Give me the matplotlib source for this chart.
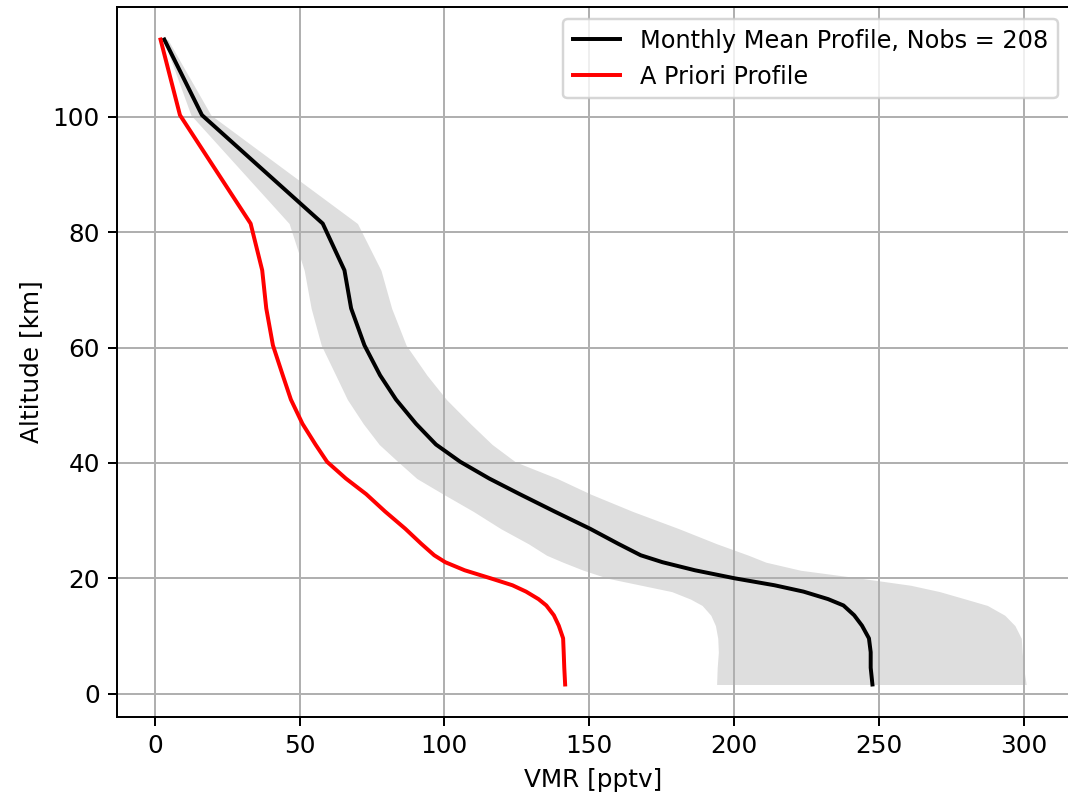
import numpy as np
import matplotlib
matplotlib.use('Agg')
import matplotlib.pyplot as plt

# Altitude grid [km], shared by all profiles
altitude = [113.4, 100.3, 81.5, 73.4, 66.8, 60.4, 55.2, 51.0, 46.8, 43.2,
            40.2, 37.3, 34.6, 31.6, 28.6, 26.0, 24.0, 22.8, 21.4, 20.0,
            18.8, 17.7, 16.4, 15.3, 13.6, 11.8, 9.6, 7.2, 4.5, 1.6]

# Monthly mean VMR [pptv]
mean_vmr = [3.3, 16.3, 58.0, 65.5, 67.8, 72.4, 77.8, 83.3, 90.2, 97.1,
            105.5, 115.5, 126.0, 138.0, 150.3, 160.0, 167.8, 175.3, 186.5, 200.3,
            214.0, 224.0, 232.5, 237.8, 241.5, 244.2, 246.6, 247.2, 247.2, 247.8]

# A priori VMR [pptv]
apriori_vmr = [2.0, 8.7, 33.1, 37.1, 38.5, 40.8, 44.2, 47.0, 51.0, 55.5,
               59.5, 66.0, 73.0, 79.5, 86.5, 92.0, 96.5, 100.3, 107.0, 116.0,
               123.5, 128.2, 132.5, 135.2, 137.8, 139.5, 141.0, 141.2, 141.4, 141.7]

# Spread of the monthly profiles (lower / upper bound) [pptv]
band_low = [3.0, 12.5, 46.4, 51.6, 54.0, 57.5, 62.5, 66.5, 72.0, 77.5,
            84.0, 90.5, 99.6, 110.0, 119.5, 129.0, 135.3, 140.9, 148.0, 156.5,
            168.0, 178.5, 185.0, 189.0, 192.0, 193.6, 194.4, 194.6, 194.2, 194.0]
band_high = [4.5, 19.4, 70.0, 78.1, 81.8, 86.8, 94.0, 100.7, 109.0, 116.5,
             124.5, 139.0, 150.5, 165.0, 181.0, 194.0, 205.0, 211.0, 223.0, 244.0,
             261.0, 271.0, 280.0, 287.5, 293.5, 297.0, 299.2, 299.5, 300.0, 300.9]

n_obs = 208


def main():
    fig, ax = plt.subplots(figsize=(6.0, 4.5), dpi=178)
    fig.subplots_adjust(left=0.1098, right=1.0014, bottom=0.1052, top=0.9909)

    ax.fill_betweenx(altitude, band_low, band_high, color='#dedede', linewidth=0)
    ax.plot(mean_vmr, altitude, color='black', lw=1.6,
            label='Monthly Mean Profile, Nobs = %d' % n_obs)
    ax.plot(apriori_vmr, altitude, color='red', lw=1.6, label='A Priori Profile')

    ax.set_xlabel('VMR [pptv]')
    ax.set_ylabel('Altitude [km]')
    ax.grid(True)
    ax.legend(loc='upper right', fontsize=9.7)

    fig.savefig('out.png', dpi=178)


if __name__ == '__main__':
    main()
